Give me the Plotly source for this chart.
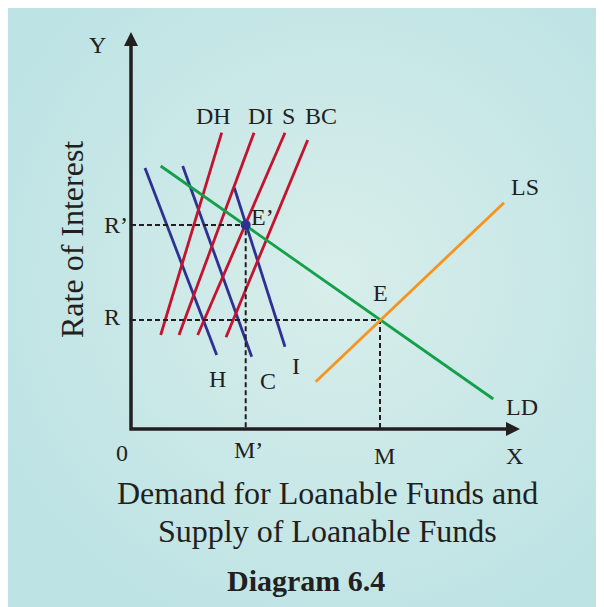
import base64
import plotly.graph_objects as go

# end points of each curve: x = loanable funds, y = rate of interest (origin at 0,0)
H_x, H_y = [1.4, 8.57], [26.1, 7.4]
C_x, C_y = [5.17, 12.07], [26.3, 7.23]
I_x, I_y = [10.33, 15.4], [24.13, 8.23]
DH_x, DH_y = [2.97, 9.07], [9.4, 29.63]
DI_x, DI_y = [4.8, 12.3], [9.4, 29.63]
S_x, S_y = [6.67, 15.4], [9.4, 29.63]
BC_x, BC_y = [9.5, 17.67], [9.17, 28.9]
LD_x, LD_y = [2.97, 36.23], [26.3, 3.0]
LS_x, LS_y = [18.47, 37.3], [4.73, 22.63]

# equilibrium points
E = [24.9, 10.9]
E1 = [11.47, 20.4]

x_axis_end = 38.9
y_axis_end = 39.7

SERIF = "Liberation Serif"
INK = "#231f20"
RED = "#c4122f"
BLUE = "#2e3192"
GREEN = "#13a04a"
ORANGE = "#f7941d"

fig = go.Figure()


def line(x, y, color, width=2.8, dash=None):
    fig.add_trace(go.Scatter(x=x, y=y, mode="lines",
                             line=dict(color=color, width=width, dash=dash),
                             hoverinfo="skip"))


for xs, ys in [(H_x, H_y), (C_x, C_y), (I_x, I_y)]:
    line(xs, ys, BLUE)
for xs, ys in [(DH_x, DH_y), (DI_x, DI_y), (S_x, S_y), (BC_x, BC_y)]:
    line(xs, ys, RED)

# dotted guides from the equilibria to the axes
line([0, E1[0], E1[0]], [E1[1], E1[1], 0], INK, 2, "5px,3px")
line([0, E[0], E[0]], [E[1], E[1], 0], INK, 2, "5px,3px")

line(LD_x, LD_y, GREEN)
line(LS_x, LS_y, ORANGE)

fig.add_trace(go.Scatter(x=[E1[0]], y=[E1[1]], mode="markers",
                         marker=dict(color=BLUE, size=10), hoverinfo="skip"))

# axes with arrow heads
line([0, 0, x_axis_end - 0.8], [y_axis_end - 0.8, 0, 0], INK, 3.5)
fig.add_trace(go.Scatter(x=[0, x_axis_end], y=[y_axis_end, 0], mode="markers",
                         marker=dict(symbol=["arrow-up", "arrow-right"], size=14,
                                     color=INK, line=dict(width=0)),
                         hoverinfo="skip", cliponaxis=False))


def label(text, x, y, dx=0, dy=0, size=24, **kw):
    fig.add_annotation(x=x, y=y, text=text, showarrow=False, xshift=dx, yshift=dy,
                       font=dict(family=SERIF, size=size, color=INK), **kw)


label("DH", DH_x[1], DH_y[1], -8, 17)
label("DI", DI_x[1], DI_y[1], 6, 17)
label("S", S_x[1], S_y[1], 3, 17)
label("BC", BC_x[1], BC_y[1], 13, 24)
label("H", H_x[1], H_y[1], 1, -24)
label("C", C_x[1], C_y[1], 16, -24)
label("I", I_x[1], I_y[1], 11, -19)
label("LS", LS_x[1], LS_y[1], 21, 16)
label("LD", LD_x[1], LD_y[1], 29, -8)
label("E", E[0], E[1], 0, 27)
label("E’", E1[0], E1[1], 17, 8)
label("R’", 0, E1[1], -29, 0, xanchor="left")
label("R", 0, E[1], -29, 3, xanchor="left")
label("M’", E1[0], 0, 3, -21)
label("M", E[0], 0, 4, -27)
label("0", 0, 0, -9, -24)
label("X", x_axis_end, 0, -6, -27)
label("Y", 0, y_axis_end, -34, -13)

label("Rate of Interest", 0, 18.9, -59, 0, size=32, textangle=-90)
label("Demand for Loanable Funds and", 19.6, 0, 0, -64, size=32)
label("Supply of Loanable Funds", 19.6, 0, 0, -102, size=32)
label("<b>Diagram 6.4</b>", 17.5, 0, 0, -151, size=30)

# soft radial gradient behind the diagram
svg = ('<svg xmlns="http://www.w3.org/2000/svg" width="596" height="599">'
       '<defs><radialGradient id="g" cx="0.55" cy="0.45" r="0.62">'
       '<stop offset="0" stop-color="#d8eeea"/>'
       '<stop offset="1" stop-color="#bee3e5"/></radialGradient></defs>'
       '<rect width="596" height="599" fill="url(#g)"/></svg>')
src = "data:image/svg+xml;base64," + base64.b64encode(svg.encode()).decode()
fig.add_layout_image(source=src, xref="paper", yref="paper", x=0, y=1,
                     sizex=1, sizey=1, xanchor="left", yanchor="top",
                     sizing="stretch", layer="below")

# the page puts the figure 8px in from the top-left corner
fig.update_layout(
    width=596, height=599,
    margin=dict(l=0, t=0, r=0, b=0),
    paper_bgcolor="#bee3e5",
    plot_bgcolor="rgba(0,0,0,0)",
    showlegend=False,
    hovermode=False,
    xaxis=dict(visible=False, range=[-12.3, 47.3], fixedrange=True),
    yaxis=dict(visible=False, range=[-17.8, 42.1], fixedrange=True),
)

fig.write_html("out.html")
